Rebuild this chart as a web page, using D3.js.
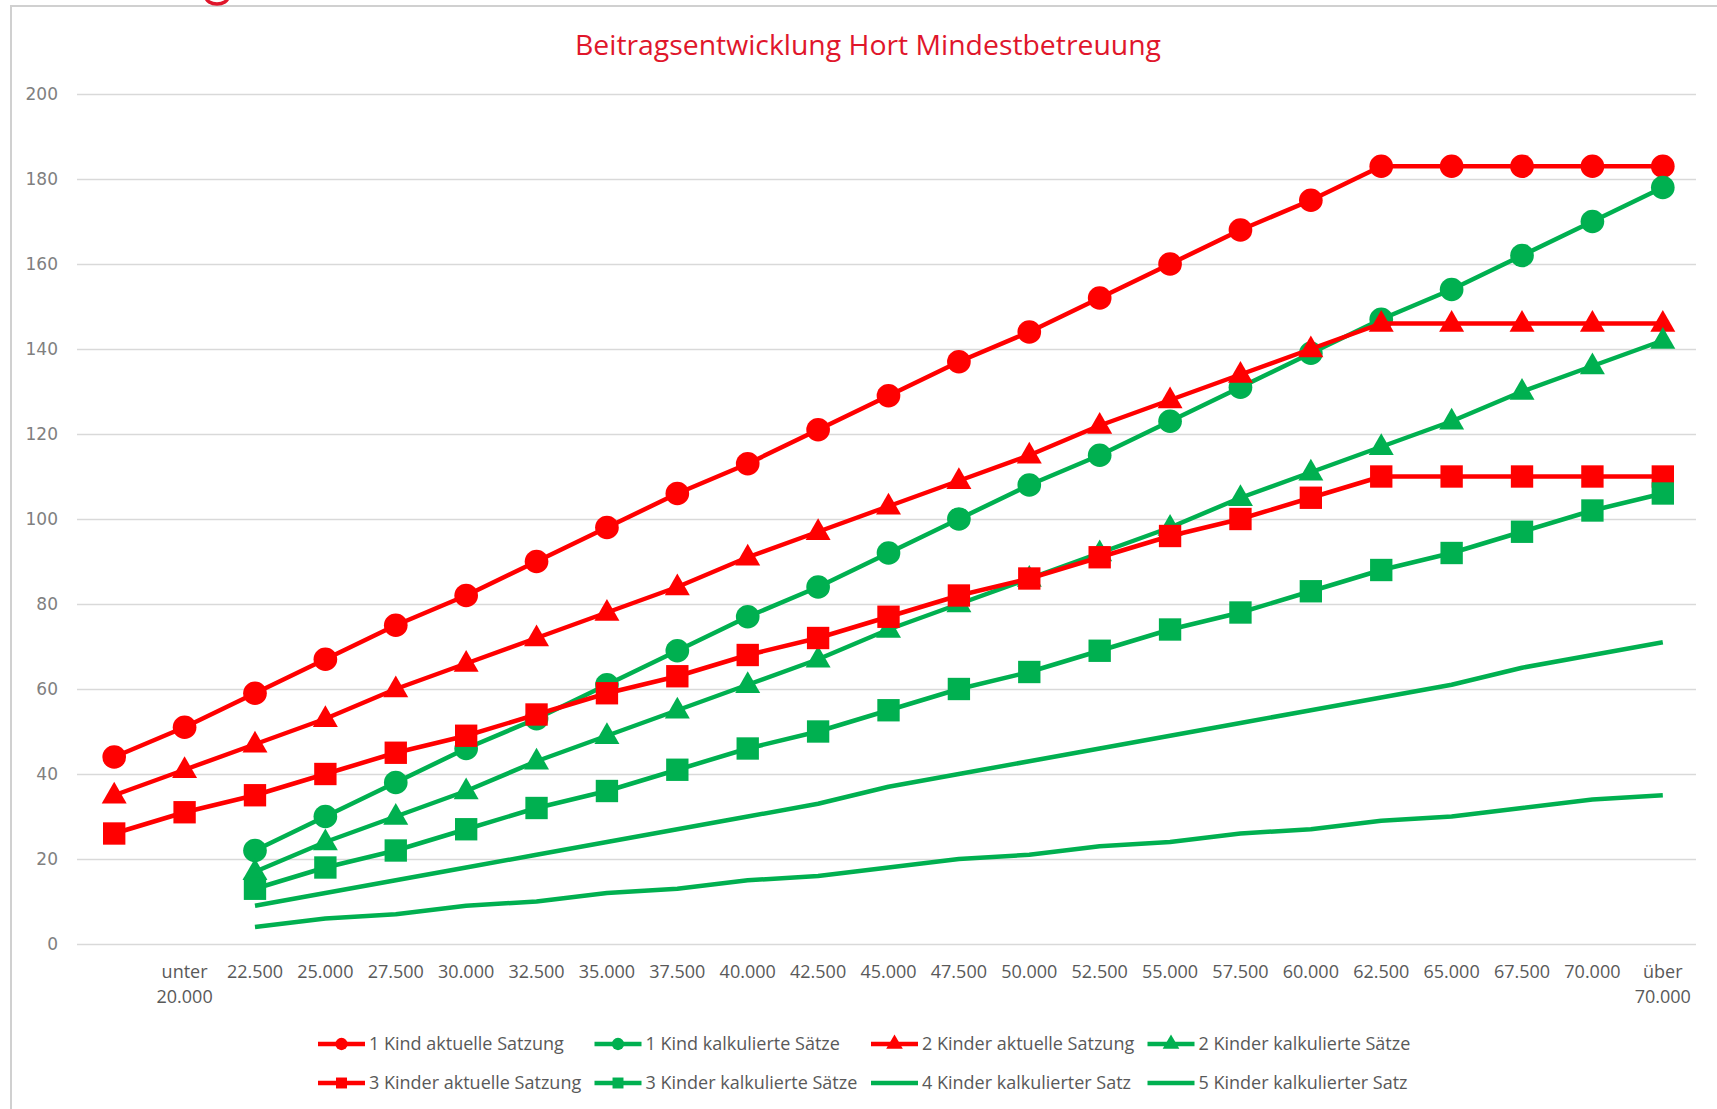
<!DOCTYPE html>
<html>
<head>
<meta charset="utf-8">
<script src="https://cdn.jsdelivr.net/npm/d3@7"></script>
<style>
  body { margin: 0; background: #fff; }
  svg { display: block; }
  .tick line { stroke: #d9d9d9; stroke-width: 1.5; }
  .x-labels text { font-family: "Open Sans", sans-serif; font-size: 18px; fill: #595959; }
  .y-axis text { font-family: "DejaVu Sans", sans-serif; font-size: 17px; fill: #808080; }
  .legend text { font-family: "Open Sans", sans-serif; font-size: 18px; fill: #595959; }
</style>
</head>
<body>
<script>
var width = 1717;
var height = 1109;

// einkommensgruppen (erste kategorie ohne beschriftung)
var categories = ["", "unter 20.000", "22.500", "25.000", "27.500", "30.000", "32.500", "35.000",
  "37.500", "40.000", "42.500", "45.000", "47.500", "50.000", "52.500", "55.000", "57.500",
  "60.000", "62.500", "65.000", "67.500", "70.000", "über 70.000"];

var yTicks = [0, 20, 40, 60, 80, 100, 120, 140, 160, 180, 200];

var kind1Aktuell = [44, 51, 59, 67, 75, 82, 90, 98, 106, 113, 121, 129, 137, 144, 152, 160, 168, 175, 183, 183, 183, 183, 183];
var kinder2Aktuell = [35, 41, 47, 53, 60, 66, 72, 78, 84, 91, 97, 103, 109, 115, 122, 128, 134, 140, 146, 146, 146, 146, 146];
var kinder3Aktuell = [26, 31, 35, 40, 45, 49, 54, 59, 63, 68, 72, 77, 82, 86, 91, 96, 100, 105, 110, 110, 110, 110, 110];

// kalkulierte saetze beginnen erst bei 22.500
var kind1Kalk = [22, 30, 38, 46, 53, 61, 69, 77, 84, 92, 100, 108, 115, 123, 131, 139, 147, 154, 162, 170, 178];
var kinder2Kalk = [17, 24, 30, 36, 43, 49, 55, 61, 67, 74, 80, 86, 92, 98, 105, 111, 117, 123, 130, 136, 142];
var kinder3Kalk = [13, 18, 22, 27, 32, 36, 41, 46, 50, 55, 60, 64, 69, 74, 78, 83, 88, 92, 97, 102, 106];
var kinder4Kalk = [9, 12, 15, 18, 21, 24, 27, 30, 33, 37, 40, 43, 46, 49, 52, 55, 58, 61, 65, 68, 71];
var kinder5Kalk = [4, 6, 7, 9, 10, 12, 13, 15, 16, 18, 20, 21, 23, 24, 26, 27, 29, 30, 32, 34, 35];

var red = "#ff0000";
var green = "#00b050";

var series = [
  { name: "1 Kind aktuelle Satzung", values: kind1Aktuell, start: 0, color: red, symbol: "circle" },
  { name: "1 Kind kalkulierte Sätze", values: kind1Kalk, start: 2, color: green, symbol: "circle" },
  { name: "2 Kinder aktuelle Satzung", values: kinder2Aktuell, start: 0, color: red, symbol: "triangle" },
  { name: "2 Kinder kalkulierte Sätze", values: kinder2Kalk, start: 2, color: green, symbol: "triangle" },
  { name: "3 Kinder aktuelle Satzung", values: kinder3Aktuell, start: 0, color: red, symbol: "square" },
  { name: "3 Kinder kalkulierte Sätze", values: kinder3Kalk, start: 2, color: green, symbol: "square" },
  { name: "4 Kinder kalkulierter Satz", values: kinder4Kalk, start: 2, color: green, symbol: null },
  { name: "5 Kinder kalkulierter Satz", values: kinder5Kalk, start: 2, color: green, symbol: null }
];

var svg = d3.select("body").append("svg")
    .attr("width", width)
    .attr("height", height);

// rahmen des diagramms
svg.append("rect")
    .attr("x", 11).attr("y", 6)
    .attr("width", width + 20).attr("height", height + 20)
    .attr("fill", "none")
    .attr("stroke", "#d0d0d0")
    .attr("stroke-width", 2);

// rest einer abgeschnittenen roten schrift oben links
svg.append("ellipse")
    .attr("cx", 217).attr("cy", -3)
    .attr("rx", 11).attr("ry", 7)
    .attr("fill", "none")
    .attr("stroke", "#e0162b")
    .attr("stroke-width", 3.5);

svg.append("text")
    .attr("x", 868).attr("y", 55)
    .attr("text-anchor", "middle")
    .attr("font-family", "Open Sans, sans-serif")
    .attr("font-size", 26.5)
    .attr("textLength", 586)
    .attr("lengthAdjust", "spacingAndGlyphs")
    .attr("fill", "#e0162b")
    .text("Beitragsentwicklung Hort Mindestbetreuung");

var x = d3.scalePoint()
    .domain(d3.range(categories.length))
    .range([79, 1698])
    .padding(0.5);

var y = d3.scaleLinear()
    .domain([0, 200])
    .range([944, 94]);

svg.append("g")
    .attr("class", "y-axis")
    .attr("transform", "translate(77,0)")
    .call(d3.axisLeft(y).tickValues(yTicks).tickSize(-(1696 - 77)).tickPadding(19))
    .call(g => g.select(".domain").remove());

var xl = svg.append("g").attr("class", "x-labels");
categories.forEach(function(c, i) {
  var parts = c.split(" ");
  var t = xl.append("text")
      .attr("x", x(i))
      .attr("y", 978)
      .attr("text-anchor", "middle");
  parts.forEach(function(p, j) {
    t.append("tspan").attr("x", x(i)).attr("dy", j == 0 ? 0 : 25).text(p);
  });
});

var line = d3.line()
    .x(d => x(d.i))
    .y(d => y(d.v));

function symbolPath(type, size) {
  if (type == "circle") return d3.symbol(d3.symbolCircle, size)();
  if (type == "square") return d3.symbol(d3.symbolSquare, size)();
  return d3.symbol(d3.symbolTriangle, size)();
}

var plot = svg.append("g");

series.forEach(function(s) {
  var pts = s.values.map((v, k) => ({ i: k + s.start, v: v }));
  var g = plot.append("g");
  g.append("path")
      .attr("d", line(pts))
      .attr("fill", "none")
      .attr("stroke", s.color)
      .attr("stroke-width", 4.5)
      .attr("stroke-linejoin", "round");
  if (s.symbol) {
    var size = s.symbol == "circle" ? 440 : s.symbol == "square" ? 500 : 270;
    g.selectAll("path.m")
      .data(pts)
      .enter().append("path")
        .attr("class", "m")
        .attr("transform", d => "translate(" + x(d.i) + "," + (y(d.v) + (s.symbol == "triangle" ? 1 : 0)) + ")")
        .attr("d", symbolPath(s.symbol, size))
        .attr("fill", s.color);
  }
});

// legende, zwei zeilen mit je vier eintraegen
var legend = svg.append("g").attr("class", "legend");
series.forEach(function(s, k) {
  var col = k % 4, row = Math.floor(k / 4);
  var lx = 318 + col * 276.5;
  var ly = 1044 + row * 39;
  var g = legend.append("g").attr("transform", "translate(" + lx + "," + ly + ")");
  g.append("line")
      .attr("x1", 0).attr("x2", 47)
      .attr("stroke", s.color)
      .attr("stroke-width", 4.5);
  if (s.symbol) {
    g.append("path")
        .attr("transform", "translate(23.5,0)")
        .attr("d", symbolPath(s.symbol, 120))
        .attr("fill", s.color);
  }
  g.append("text")
      .attr("x", 51)
      .attr("dy", "0.35em")
      .text(s.name);
});
</script>
</body>
</html>
